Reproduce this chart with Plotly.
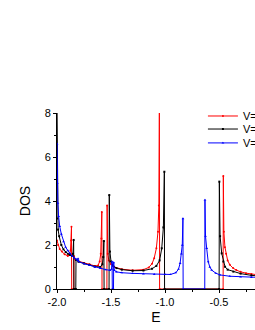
import plotly.graph_objects as go

# ---- data ----
red_E = [-2.0, -1.99, -1.975, -1.955, -1.93, -1.9, -1.885, -1.875, -1.869, -1.866, -1.864,
         -1.845, -1.843, -1.835, -1.8, -1.75, -1.7, -1.65, -1.62, -1.605, -1.595, -1.589, -1.585, -1.583,
         -1.538, -1.536, -1.53, -1.52, -1.5, -1.47, -1.4, -1.3, -1.2, -1.15, -1.12, -1.1, -1.08,
         -1.065, -1.057, -1.052, -1.05, -0.462, -0.46, -0.455, -0.445, -0.435, -0.42, -0.4,
         -0.37, -0.34, -0.3, -0.25, -0.2, -0.15]
red_D = [2.2, 2.0, 1.82, 1.7, 1.58, 1.5, 1.55, 1.75, 2.2, 2.83, 0,
         0, 1.5, 1.38, 1.26, 1.18, 1.12, 1.05, 1.07, 1.25, 1.6, 2.3, 3.5, 0,
         0, 3.8, 1.6, 1.3, 1.12, 1.0, 0.9, 0.85, 0.88, 0.98, 1.15, 1.4, 1.85,
         2.6, 3.8, 8.6, 0, 0, 5.14, 2.6, 1.9, 1.6, 1.3, 1.1,
         0.95, 0.86, 0.78, 0.72, 0.68, 0.65]

black_E = [-2.0, -1.996, -1.99, -1.98, -1.96, -1.94, -1.92, -1.9, -1.88, -1.86, -1.852, -1.846, -1.843,
           -1.826, -1.824, -1.8, -1.75, -1.7, -1.65, -1.6, -1.58, -1.572, -1.566, -1.564,
           -1.518, -1.516, -1.51, -1.5, -1.48, -1.45, -1.4, -1.3, -1.2, -1.12, -1.08, -1.05,
           -1.03, -1.015, -1.006, -1.004, -0.499, -0.497, -0.49, -0.475, -0.46, -0.444, -0.42,
           -0.367, -0.3, -0.2, -0.15]
black_D = [8.6, 3.2, 2.7, 2.4, 2.0, 1.8, 1.68, 1.6, 1.55, 1.5, 1.6, 2.23, 0,
           0, 1.32, 1.24, 1.16, 1.1, 1.02, 1.0, 1.12, 1.45, 2.18, 0,
           0, 4.27, 1.7, 1.25, 1.05, 0.95, 0.88, 0.83, 0.84, 0.92, 1.05, 1.3,
           1.85, 2.8, 5.33, 0, 0, 4.88, 2.4, 1.62, 1.25, 1.01, 0.88,
           0.79, 0.7, 0.62, 0.6]

blue_E = [-2.0, -1.997, -1.992, -1.985, -1.975, -1.96, -1.94, -1.92, -1.9, -1.88, -1.86, -1.84,
          -1.82, -1.81, -1.805, -1.8, -1.75, -1.7, -1.65, -1.6, -1.55, -1.51, -1.495, -1.49,
          -1.488, -1.477, -1.475, -1.47, -1.45, -1.4, -1.3, -1.2, -1.1, -1.0, -0.95, -0.9,
          -0.875, -0.86, -0.848, -0.84, -0.834, -0.832, -0.632, -0.63, -0.625, -0.614, -0.6,
          -0.585, -0.568, -0.53, -0.491, -0.4, -0.3, -0.2, -0.15]
blue_D = [6.6, 4.8, 3.9, 3.3, 2.85, 2.5, 2.15, 1.9, 1.75, 1.62, 1.5, 1.42,
          1.35, 1.3, 1.38, 1.25, 1.15, 1.08, 1.0, 0.94, 0.88, 0.85, 0.9, 1.24,
          0, 0, 1.2, 0.85, 0.78, 0.74, 0.71, 0.69, 0.67, 0.66, 0.66, 0.74,
          0.9, 1.17, 1.6, 2.0, 3.2, 0, 0, 4.05, 2.4, 1.85, 1.24,
          1.0, 0.86, 0.72, 0.64, 0.58, 0.55, 0.53, 0.53]

series_names = ["V=", "V=", "V="]
x_tickvals = [-2.0, -1.5, -1.0, -0.5]
x_ticktext = ["-2.0", "-1.5", "-1.0", "-0.5"]
y_tickvals = [0, 2, 4, 6, 8]
y_ticktext = ["0", "2", "4", "6", "8"]

FONT = "Liberation Sans, Arial, sans-serif"

fig = go.Figure()
fig.add_trace(go.Scatter(x=red_E, y=red_D, name=series_names[0], mode="lines+markers",
                         line=dict(color="#ff0000", width=1),
                         marker=dict(symbol="circle", size=2, color="#ff0000"),
                         legend="legend"))
fig.add_trace(go.Scatter(x=black_E, y=black_D, name=series_names[1], mode="lines+markers",
                         line=dict(color="#000000", width=1),
                         marker=dict(symbol="square", size=2, color="#000000"),
                         legend="legend2"))
fig.add_trace(go.Scatter(x=blue_E, y=blue_D, name=series_names[2], mode="lines+markers",
                         line=dict(color="#0000ff", width=1),
                         marker=dict(symbol="triangle-up", size=2.5, color="#0000ff"),
                         legend="legend3"))

leg_common = dict(x=0.737, xanchor="left", yanchor="middle", bgcolor="rgba(0,0,0,0)",
                  font=dict(family=FONT, size=11, color="#000"), borderwidth=0)

fig.update_layout(
    width=255, height=330,
    margin=dict(l=57, r=0, t=113, b=41, autoexpand=False),
    paper_bgcolor="white", plot_bgcolor="white",
    font=dict(family=FONT, size=11, color="#000"),
    showlegend=True,
    legend=dict(y=0.983, **leg_common),
    legend2=dict(y=0.909, **leg_common),
    legend3=dict(y=0.830, **leg_common),
    xaxis=dict(range=[-2.0, -0.1667], tickvals=x_tickvals, ticktext=x_ticktext,
               showline=True, linecolor="#000", linewidth=1, mirror=False, layer="below traces",
               ticks="outside", ticklen=3, tickwidth=1, tickcolor="#000",
               minor=dict(ticks="outside", ticklen=2, tickwidth=1, tickcolor="#000", dtick=0.25, tick0=-2.0),
               showgrid=False, zeroline=False,
               tickfont=dict(family=FONT, size=11, color="#000"),
               title=dict(text="E", font=dict(family=FONT, size=14, color="#000"), standoff=4)),
    yaxis=dict(range=[0, 8], tickvals=y_tickvals, ticktext=y_ticktext,
               showline=True, linecolor="#000", linewidth=1, mirror=False, layer="below traces",
               ticks="outside", ticklen=3, tickwidth=1, tickcolor="#000",
               minor=dict(ticks="outside", ticklen=2, tickwidth=1, tickcolor="#000", dtick=1, tick0=0),
               showgrid=False, zeroline=False,
               tickfont=dict(family=FONT, size=11, color="#000"),
               title=dict(text="DOS", font=dict(family=FONT, size=14, color="#000"), standoff=10)),
)

# remove the browser's default 8 px body margin so the figure sits at the page origin
fig.write_html("out.html", config={"displayModeBar": False},
               post_script="document.body.style.margin='0';document.body.style.overflow='hidden';")
